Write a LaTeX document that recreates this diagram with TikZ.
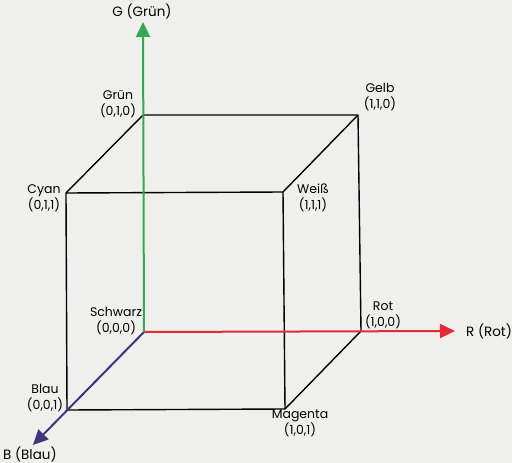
\documentclass[tikz,border=0pt]{standalone}
\usepackage{fontspec}
\setmainfont{Poppins}
\usetikzlibrary{arrows.meta}
\definecolor{bg}{RGB}{239,239,236}
\definecolor{axG}{RGB}{52,168,84}
\definecolor{axR}{RGB}{228,42,52}
\definecolor{axB}{RGB}{62,52,128}
\begin{document}
\begin{tikzpicture}[x=1pt,y=-1pt,
  edge/.style={draw=black,line width=1.4pt},
  axis/.style={line width=2pt},
  tip/.style={-{Triangle[length=15pt,width=14pt]}},
  lbl/.style={font=\fontsize{12.5}{15.5}\selectfont,align=center,inner sep=0pt,text=black},
  axl/.style={font=\fontsize{13.5}{16}\selectfont,inner sep=0pt,text=black}]
\fill[bg] (0,0) rectangle (512,463);
\useasboundingbox (0,0) rectangle (512,463);
% corners
\coordinate (K) at (144,332);
\coordinate (G) at (143,115);
\coordinate (Y) at (358,115);
\coordinate (R) at (361,331);
\coordinate (C) at (66,193);
\coordinate (W) at (283,192);
\coordinate (M) at (285,409);
\coordinate (B) at (67,410);
\coordinate (Gtip) at (143,22);
\coordinate (Rtip) at (455,331);
\coordinate (Btip) at (33,445);
% cube edges
\draw[edge,line join=round] (G) -- (Y) -- (R);
\draw[edge,line join=round] (C) -- (W) -- (M) -- (B) -- cycle;
\draw[edge] (G) -- (C);
\draw[edge] (Y) -- (W);
\draw[edge] (R) -- (M);
% axes
\draw[axis,axR,tip] (K) -- (Rtip);
\draw[axis,axB,tip] (K) -- (Btip);
\draw[axis,axG,tip] (K) -- (Gtip);
% axis labels
\node[axl] (lg) at (142,11) {G (Grün)};
\node[axl,anchor=west] (lr) at (466,331) {R (Rot)};
\node[axl,anchor=west] (lb) at (3,454) {B (Blau)};
% corner labels
\node[lbl,anchor=south] (tg) at (118,118) {Grün\\(0,1,0)};
\node[lbl,anchor=south] (ty) at (380,111) {Gelb\\(1,1,0)};
\node[lbl] (tc) at (44,198) {Cyan\\(0,1,1)};
\node[lbl] (tw) at (313,198) {Weiß\\(1,1,1)};
\node[lbl,anchor=south] (tk) at (116,335) {Schwarz\\(0,0,0)};
\node[lbl,anchor=south] (tr) at (383,329) {Rot\\(1,0,0)};
\node[lbl,anchor=south] (tb) at (45,412) {Blau\\(0,0,1)};
\node[lbl,anchor=north] (tm) at (300,410) {Magenta\\(1,0,1)};
\end{tikzpicture}
\end{document}
